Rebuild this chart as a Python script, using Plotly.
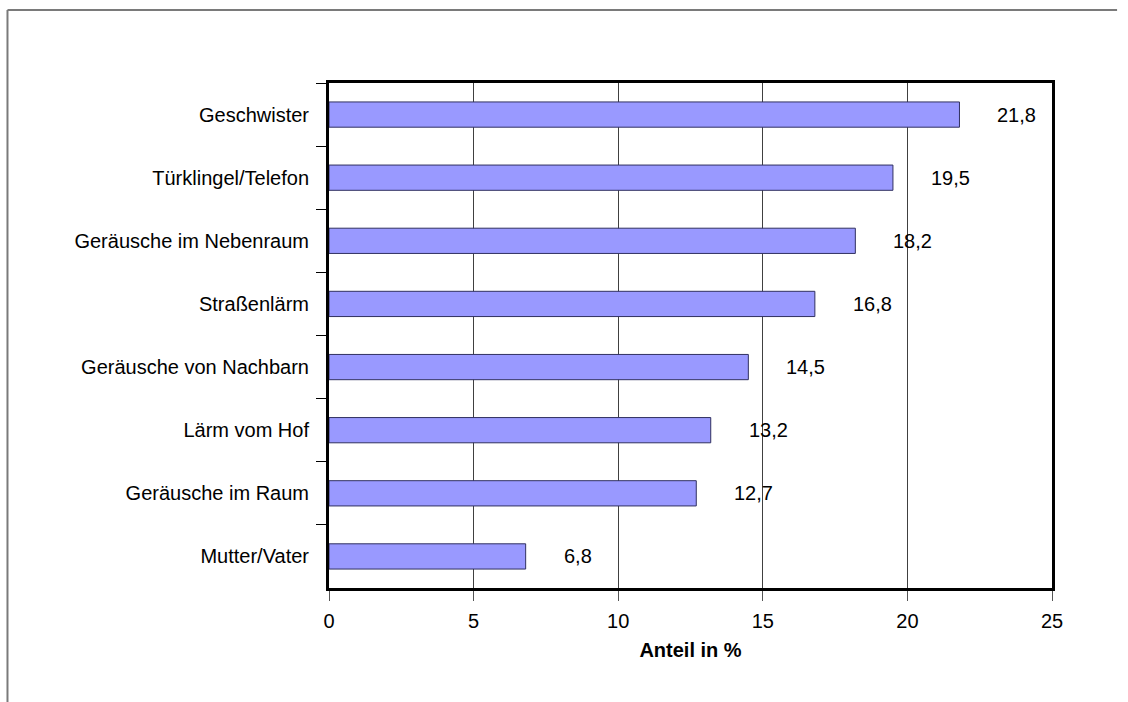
import plotly.graph_objects as go

# Störquellen beim Lernen (Anteil in %)
categories = [
    "Geschwister",
    "Türklingel/Telefon",
    "Geräusche im Nebenraum",
    "Straßenlärm",
    "Geräusche von Nachbarn",
    "Lärm vom Hof",
    "Geräusche im Raum",
    "Mutter/Vater",
]
values = [21.8, 19.5, 18.2, 16.8, 14.5, 13.2, 12.7, 6.8]
x_ticks = [0, 5, 10, 15, 20, 25]

FONT = "Liberation Sans, Arial, sans-serif"

fig = go.Figure(
    go.Bar(
        y=categories,
        x=values,
        orientation="h",
        width=0.4,
        marker=dict(color="#9999FF", line=dict(color="#303060", width=1)),
        hoverinfo="skip",
    )
)

# value labels with German decimal comma, placed right of each bar
for cat, val in zip(categories, values):
    fig.add_annotation(
        x=val, y=cat, xref="x", yref="y",
        text=f"{val:.1f}".replace(".", ","),
        showarrow=False, xanchor="left", xshift=36,
        font=dict(family=FONT, size=20, color="black"),
    )

# outer frame of the chart area: top and left edges
frame = dict(color="#7a7a7a", width=2)
fig.add_shape(type="line", xref="paper", yref="paper",
              x0=-0.4447, x1=1.09, y0=1.1446, y1=1.1446,
              line=frame, layer="below")
fig.add_shape(type="line", xref="paper", yref="paper",
              x0=-0.4447, x1=-0.4447, y0=-0.23, y1=1.1446,
              line=frame, layer="below")

fig.update_layout(
    width=1128, height=702,
    margin=dict(l=329, r=76, t=83, b=114),
    paper_bgcolor="white", plot_bgcolor="white",
    font=dict(family=FONT, size=20, color="black"),
    showlegend=False,
    bargap=0.6,
)

fig.update_xaxes(
    range=[0, 25], tickvals=x_ticks, ticktext=[str(t) for t in x_ticks],
    showgrid=True, gridcolor="#404040", gridwidth=1,
    showline=True, linecolor="black", linewidth=3, mirror=True,
    ticks="outside", ticklen=10, tickcolor="#555555", tickwidth=1,
    ticklabelstandoff=3,
    zeroline=False,
    title=dict(text="<b>Anteil in %</b>", standoff=12,
               font=dict(family=FONT, size=20, color="black")),
)

fig.update_yaxes(
    categoryorder="array", categoryarray=categories, autorange="reversed",
    showgrid=False, tickson="boundaries",
    showline=True, linecolor="black", linewidth=3, mirror=True,
    ticks="outside", ticklen=10, tickcolor="black", tickwidth=1,
    ticklabelstandoff=13,
)

# keep the page free of scrollbars
page_js = (
    "document.documentElement.style.overflow='hidden';"
    "document.body.style.overflow='hidden';"
    "document.body.style.margin='0';"
)

fig.write_html("out.html", post_script=page_js,
               config={"displayModeBar": False})
